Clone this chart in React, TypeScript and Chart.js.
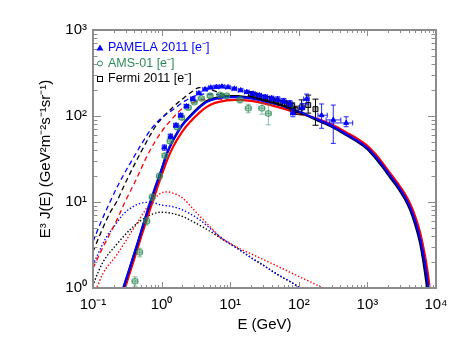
import React, { useEffect, useRef } from 'react';
import { Chart, registerables } from 'chart.js';

Chart.register(...registerables);

// ---- axis ticks ----
const X_TICKS = [0.1, 1, 10, 100, 1000, 10000];
const X_TICK_LABELS = ['10⁻¹', '10⁰', '10¹', '10²', '10³', '10⁴'];
const Y_TICKS = [1, 10, 100, 1000];
const Y_TICK_LABELS = ['10⁰', '10¹', '10²', '10³'];
const X_TITLE = 'E (GeV)';
const Y_TITLE = 'E³ J(E) (GeV²m⁻²s⁻¹sr⁻¹)';

// ---- legend ----
const LEGEND_LABELS = ['PAMELA 2011 [e⁻]', 'AMS-01 [e⁻]', 'Fermi 2011 [e⁻]'];

// ---- model curves: solid ----
const BLUE_SOLID_E = [0.2, 0.276, 0.35, 0.45, 0.6, 0.8, 1.0, 1.2, 1.5, 2.0, 2.6, 3.5, 4.5, 6, 9, 12, 20, 30, 50, 100, 200, 318, 500, 700, 1000, 1300, 1700, 2140, 2800, 3500, 4180, 5000, 5850, 6500, 7100, 7730, 8300];
const BLUE_SOLID_J = [0.45, 1.0, 1.8, 3.4, 7.2, 14.5, 24, 37, 54, 78, 98, 124, 145, 158, 166, 166, 160, 150, 136, 112, 89, 75, 61, 52, 42.5, 34, 26, 20.3, 15.2, 11.5, 8.7, 5.9, 3.8, 2.5, 1.65, 1.0, 0.55];

const BLACK_SOLID_E = [0.2, 0.276, 0.35, 0.45, 0.6, 0.8, 1.0, 1.2, 1.5, 2.0, 2.6, 3.5, 4.5, 6, 9, 12, 20, 30, 50, 100, 200, 318, 500, 700, 1000, 1300, 1700, 2140, 2800, 3500, 4180, 5000, 5850, 6500, 7100, 7730, 8300];
const BLACK_SOLID_J = [0.44, 0.98, 1.78, 3.35, 7.1, 14.3, 23.8, 36.8, 53.5, 79, 100, 127, 149, 162, 170, 170, 163, 152, 137, 111, 87, 73.5, 59.5, 50.8, 41.2, 32.7, 24.9, 19.4, 14.5, 10.9, 8.15, 5.4, 3.35, 2.1, 1.3, 0.75, 0.4];

const RED_SOLID_E = [0.2, 0.293, 0.37, 0.47, 0.6, 0.8, 1.0, 1.25, 1.5, 2.0, 2.6, 3.5, 4.5, 6, 9, 12, 20, 30, 50, 100, 200, 318, 500, 700, 1000, 1300, 1700, 2140, 2800, 3500, 4180, 5000, 5850, 6500, 7100, 7730, 8300, 9000];
const RED_SOLID_J = [0.38, 1.0, 1.8, 3.3, 6.1, 12.2, 20.5, 33, 45, 66, 85, 108, 127, 142, 152, 154, 150, 141, 127, 108, 91, 78, 64, 55, 45, 36.3, 27.8, 21.7, 16.3, 12.5, 9.6, 6.7, 4.45, 3.05, 2.1, 1.35, 0.8, 0.4];

// ---- model curves: dashed ----
const BLUE_DASH_E = [0.1, 0.13, 0.177, 0.24, 0.31, 0.4, 0.5, 0.7, 1.0, 1.5, 2.2, 3.0, 4.0, 5.5, 7.5, 10, 14];
const BLUE_DASH_J = [3.45, 5.8, 10, 16.5, 24, 34, 46, 70, 95, 120, 150, 170, 180, 180, 174, 168, 166];

const BLACK_DASH_E = [0.1, 0.13, 0.177, 0.22, 0.3, 0.4, 0.5, 0.7, 0.85, 1.0, 1.48, 2.0, 2.6, 3.6, 4.5, 6, 8, 10, 14];
const BLACK_DASH_J = [2.64, 4.4, 7.5, 10, 17, 27, 38, 62, 80, 93, 128, 157, 185, 214, 210, 195, 178, 172, 170];

const RED_DASH_E = [0.1, 0.13, 0.177, 0.24, 0.292, 0.4, 0.48, 0.6, 0.8, 1.0, 1.46, 1.66, 2.0, 3.0, 4.0, 6.0, 9, 13];
const RED_DASH_J = [1.7, 2.65, 4.3, 7.0, 10, 16.5, 22.5, 33, 50, 66, 95, 106, 122, 145, 155, 158, 155, 154];

// ---- model curves: dotted ----
const BLUE_DOT_E = [0.1, 0.113, 0.158, 0.2, 0.276, 0.4, 0.6, 0.8, 1.0, 1.4, 1.86, 2.6, 3.6, 5, 7.1, 10, 14, 20, 30, 50, 80, 105, 140];
const BLUE_DOT_J = [1.85, 2.3, 3.95, 5.1, 7.2, 9.0, 9.9, 9.7, 9.2, 8.9, 8.3, 7.3, 6.2, 5.0, 3.95, 3.25, 2.75, 2.26, 1.85, 1.42, 1.15, 1.0, 0.86];

const BLACK_DOT_E = [0.1, 0.107, 0.14, 0.22, 0.39, 0.6, 0.85, 1.05, 1.5, 2.0, 3.0, 5.0, 7.1, 10, 14, 20, 30, 50, 80, 105, 140];
const BLACK_DOT_J = [1.05, 1.24, 2.0, 3.2, 5.2, 6.7, 7.5, 7.6, 7.3, 6.8, 5.8, 4.6, 3.85, 3.25, 2.75, 2.26, 1.85, 1.42, 1.15, 1.0, 0.86];

const RED_DOT_E = [0.1, 0.113, 0.14, 0.22, 0.39, 0.68, 1.0, 1.2, 1.5, 2.0, 3.0, 4.0, 5.7, 7.1, 10, 14, 20, 50, 100, 150, 224, 300];
const RED_DOT_J = [0.8, 1.0, 1.48, 2.4, 4.9, 9.6, 12.8, 13.1, 12.6, 11.2, 8.0, 6.3, 4.7, 3.9, 3.3, 2.85, 2.5, 1.78, 1.36, 1.17, 1.0, 0.9];

// ---- data: PAMELA 2011 ----
const PAMELA_E = [1.1, 1.35, 1.62, 1.9, 2.3, 2.85, 3.5, 4.3, 5.2, 6.3, 7.6, 9.3, 11.5, 14.2, 17.5, 21.5, 26.5, 32.5, 40, 49, 60, 74, 82, 112, 130, 215, 318, 490];
const PAMELA_J = [43, 58, 78, 102, 130, 158, 184, 204, 214, 218, 220, 216, 208, 199, 190, 182, 174, 167, 161, 157, 150, 140, 108, 125, 158, 102, 90, 83];
const PAMELA_J_LO = [40, 54.5, 74, 97, 124, 151, 177, 197, 207, 211, 213, 209, 201, 192, 183, 175, 166, 159, 152, 147, 140, 129, 98, 110, 138, 72, 48, 75];
const PAMELA_J_HI = [46, 61.5, 82, 107, 136, 165, 191, 211, 221, 225, 227, 223, 215, 206, 197, 189, 182, 175, 170, 167, 160, 151, 120, 140, 180, 138, 134, 98];
const PAMELA_E_LO = [1.02, 1.25, 1.5, 1.76, 2.13, 2.64, 3.24, 3.98, 4.8, 5.8, 7.0, 8.6, 10.6, 13.1, 16.2, 19.9, 24.5, 30, 37, 45, 55, 68, 76, 102, 118, 190, 250, 280];
const PAMELA_E_HI = [1.18, 1.45, 1.74, 2.04, 2.47, 3.06, 3.76, 4.62, 5.6, 6.8, 8.2, 10.0, 12.4, 15.3, 18.8, 23.1, 28.5, 35, 43, 53, 65, 80, 88, 122, 142, 260, 410, 610];

// ---- data: AMS-01 ----
const AMS_E = [0.41, 0.48, 0.61, 0.73, 0.93, 1.12, 1.33, 1.69, 1.97, 2.45, 3.0, 3.8, 5.1, 7.1, 8.9, 13.9, 18.4, 29, 36];
const AMS_J = [1.2, 2.6, 6.0, 11.4, 20, 34.6, 51, 74, 96, 125, 145, 160, 172, 176, 172, 154, 123, 123, 107];
const AMS_J_LO = [1.05, 2.3, 5.4, 10.4, 18.5, 32.5, 48, 70, 91, 119, 139, 154, 165, 169, 164, 142, 109, 105, 79];
const AMS_J_HI = [1.35, 2.9, 6.6, 12.4, 21.5, 36.7, 54, 78, 101, 131, 151, 166, 179, 183, 180, 166, 137, 141, 135];
const AMS_E_LO = [0.37, 0.435, 0.55, 0.66, 0.84, 1.01, 1.2, 1.52, 1.78, 2.2, 2.7, 3.4, 4.6, 6.4, 8.0, 12.5, 16.6, 26, 32.5];
const AMS_E_HI = [0.45, 0.525, 0.67, 0.8, 1.02, 1.23, 1.46, 1.86, 2.16, 2.7, 3.3, 4.2, 5.6, 7.8, 9.8, 15.3, 20.2, 32, 39.5];

// ---- data: Fermi 2011 ----
const FERMI_E = [20, 23, 26.5, 30.5, 35, 40.5, 46.5, 53.5, 62, 71, 80, 90, 110, 137, 175];
const FERMI_J = [180, 174, 168, 163, 158, 153, 148, 143, 140, 135, 130, 117, 126, 134, 120];
const FERMI_J_LO = [172, 166, 160, 155, 150, 145, 140, 134, 130, 124, 118, 104, 103, 108, 78];
const FERMI_J_HI = [188, 182, 176, 171, 166, 161, 156, 152, 150, 146, 142, 130, 154, 175, 157];

const FONT = '"Liberation Sans", Arial, Helvetica, sans-serif';
const BLUE = '#0000ff';
const RED = '#ff0000';
const BLACK = '#000000';
const GREEN = 'rgb(46,139,87)';

const pts = (xs: number[], ys: number[]) => xs.map((x, i) => ({ x, y: ys[i] }));

const lineDs = (label: string, xs: number[], ys: number[], color: string, width: number, dash: number[], order: number) => ({
  label,
  data: pts(xs, ys),
  showLine: true,
  borderColor: color,
  backgroundColor: color,
  borderWidth: width,
  borderDash: dash,
  pointRadius: 0,
  cubicInterpolationMode: 'monotone',
  fill: false,
  order,
});

const errorBarPlugin = {
  id: 'errorBars',
  beforeDatasetDraw(chart: any, args: any) {
    const ds = chart.data.datasets[args.index];
    const eb = ds.errorBars;
    if (!eb) return;
    const { ctx, chartArea } = chart;
    const xs = chart.scales.x;
    const ys = chart.scales.y;
    ctx.save();
    ctx.beginPath();
    ctx.rect(chartArea.left, chartArea.top, chartArea.right - chartArea.left, chartArea.bottom - chartArea.top);
    ctx.clip();
    ctx.strokeStyle = eb.color;
    ctx.lineWidth = 1;
    const cap = eb.cap;
    ds.data.forEach((p: any, i: number) => {
      const px = xs.getPixelForValue(p.x);
      const py = ys.getPixelForValue(p.y);
      ctx.beginPath();
      if (eb.yLo && eb.yHi) {
        const y1 = ys.getPixelForValue(eb.yLo[i]);
        const y2 = ys.getPixelForValue(eb.yHi[i]);
        ctx.moveTo(px, y1); ctx.lineTo(px, y2);
        ctx.moveTo(px - cap, y1); ctx.lineTo(px + cap, y1);
        ctx.moveTo(px - cap, y2); ctx.lineTo(px + cap, y2);
      }
      if (eb.xLo && eb.xHi) {
        const x1 = xs.getPixelForValue(eb.xLo[i]);
        const x2 = xs.getPixelForValue(eb.xHi[i]);
        ctx.moveTo(x1, py); ctx.lineTo(x2, py);
        ctx.moveTo(x1, py - cap); ctx.lineTo(x1, py + cap);
        ctx.moveTo(x2, py - cap); ctx.lineTo(x2, py + cap);
      }
      ctx.stroke();
    });
    ctx.restore();
  },
};

const framePlugin = {
  id: 'frameTicks',
  afterDraw(chart: any) {
    const { ctx, chartArea } = chart;
    const { left, right, top, bottom } = chartArea;
    const xs = chart.scales.x;
    const ys = chart.scales.y;
    ctx.save();
    ctx.strokeStyle = '#8c8c8c';
    ctx.lineWidth = 1;
    ctx.beginPath();
    for (let k = -1; k <= 3; k++) {
      for (let m = 1; m <= 9; m++) {
        const v = m * Math.pow(10, k);
        const px = Math.round(xs.getPixelForValue(v)) + 0.5;
        const len = m === 1 ? 6 : 3;
        ctx.moveTo(px, bottom); ctx.lineTo(px, bottom - len);
        ctx.moveTo(px, top); ctx.lineTo(px, top + len);
      }
    }
    for (let k = 0; k <= 2; k++) {
      for (let m = 1; m <= 9; m++) {
        const v = m * Math.pow(10, k);
        const py = Math.round(ys.getPixelForValue(v)) + 0.5;
        const len = m === 1 ? 8 : 4.5;
        ctx.moveTo(left, py); ctx.lineTo(left + len, py);
        ctx.moveTo(right, py); ctx.lineTo(right - len, py);
      }
    }
    ctx.stroke();
    ctx.lineWidth = 2;
    ctx.strokeRect(left, top, right - left, bottom - top);
    ctx.restore();
  },
};

const legendPlugin = {
  id: 'insideLegend',
  afterDraw(chart: any) {
    const { ctx, chartArea } = chart;
    const x0 = chartArea.left + 7;
    const y0 = chartArea.top + 18;
    const dy = 15.5;
    const colors = [BLUE, GREEN, BLACK];
    ctx.save();
    ctx.font = `12.5px ${FONT}`;
    ctx.textBaseline = 'middle';
    ctx.textAlign = 'left';
    LEGEND_LABELS.forEach((label, i) => {
      const y = y0 + i * dy;
      ctx.fillStyle = colors[i];
      ctx.strokeStyle = colors[i];
      ctx.lineWidth = 1;
      if (i === 0) {
        ctx.beginPath();
        ctx.moveTo(x0, y - 3.5);
        ctx.lineTo(x0 + 3.5, y + 2.5);
        ctx.lineTo(x0 - 3.5, y + 2.5);
        ctx.closePath();
        ctx.fill();
      } else if (i === 1) {
        ctx.beginPath();
        ctx.arc(x0, y, 2.5, 0, Math.PI * 2);
        ctx.stroke();
      } else {
        ctx.strokeRect(x0 - 2.5, y - 2.5, 5, 5);
      }
      ctx.fillText(label, x0 + 8, y);
    });
    ctx.restore();
  },
};

export default function App() {
  const canvasRef = useRef<HTMLCanvasElement | null>(null);

  useEffect(() => {
    const canvas = canvasRef.current;
    if (!canvas) return;
    const datasets: any[] = [
      {
        label: 'PAMELA 2011 [e⁻]',
        data: pts(PAMELA_E, PAMELA_J),
        pointStyle: 'triangle',
        pointRadius: 2.8,
        backgroundColor: BLUE,
        borderColor: BLUE,
        borderWidth: 1,
        order: 0,
        errorBars: { yLo: PAMELA_J_LO, yHi: PAMELA_J_HI, xLo: PAMELA_E_LO, xHi: PAMELA_E_HI, color: 'rgba(0,0,255,0.85)', cap: 2.5 },
      },
      {
        label: 'Fermi 2011 [e⁻]',
        data: pts(FERMI_E, FERMI_J),
        pointStyle: 'rect',
        pointRadius: 3.5,
        backgroundColor: 'rgba(0,0,0,0.3)',
        borderColor: BLACK,
        borderWidth: 1,
        order: 1,
        errorBars: { yLo: FERMI_J_LO, yHi: FERMI_J_HI, color: BLACK, cap: 3 },
      },
      {
        label: 'AMS-01 [e⁻]',
        data: pts(AMS_E, AMS_J),
        pointStyle: 'circle',
        pointRadius: 3,
        backgroundColor: 'rgba(46,139,87,0.35)',
        borderColor: 'rgba(46,139,87,0.75)',
        borderWidth: 1,
        order: 2,
        errorBars: { yLo: AMS_J_LO, yHi: AMS_J_HI, xLo: AMS_E_LO, xHi: AMS_E_HI, color: 'rgba(46,139,87,0.55)', cap: 2.5 },
      },
      lineDs('blue solid', BLUE_SOLID_E, BLUE_SOLID_J, BLUE, 2.2, [], 3),
      lineDs('black solid', BLACK_SOLID_E, BLACK_SOLID_J, BLACK, 2.2, [], 4),
      lineDs('red solid', RED_SOLID_E, RED_SOLID_J, RED, 2.2, [], 5),
      lineDs('blue dashed', BLUE_DASH_E, BLUE_DASH_J, BLUE, 1.3, [5, 3.5], 6),
      lineDs('black dashed', BLACK_DASH_E, BLACK_DASH_J, BLACK, 1.3, [5, 3.5], 7),
      lineDs('red dashed', RED_DASH_E, RED_DASH_J, RED, 1.3, [5, 3.5], 8),
      lineDs('blue dotted', BLUE_DOT_E, BLUE_DOT_J, BLUE, 1.4, [1.4, 2], 9),
      lineDs('black dotted', BLACK_DOT_E, BLACK_DOT_J, BLACK, 1.4, [1.4, 2], 10),
      lineDs('red dotted', RED_DOT_E, RED_DOT_J, RED, 1.4, [1.4, 2], 11),
    ];

    const chart = new Chart(canvas, {
      type: 'scatter',
      data: { datasets },
      options: {
        animation: false,
        responsive: false,
        devicePixelRatio: 1,
        events: [],
        layout: { padding: { left: 0, top: 30, right: 27, bottom: 0 } },
        plugins: { legend: { display: false }, tooltip: { enabled: false } },
        scales: {
          x: {
            type: 'logarithmic',
            min: 0.1,
            max: 10000,
            grid: { display: false, drawTicks: false },
            border: { display: false },
            afterBuildTicks: (axis: any) => {
              axis.ticks = X_TICKS.map((v) => ({ value: v }));
            },
            afterFit: (axis: any) => {
              axis.height = 60;
            },
            ticks: {
              autoSkip: false,
              maxRotation: 0,
              padding: 8,
              color: BLACK,
              font: { family: FONT, size: 15 },
              callback: (_v: any, i: number) => X_TICK_LABELS[i],
            },
            title: {
              display: true,
              text: X_TITLE,
              color: BLACK,
              font: { family: FONT, size: 15 },
              padding: { top: 0, bottom: 14 },
            },
          },
          y: {
            type: 'logarithmic',
            min: 1,
            max: 1000,
            grid: { display: false, drawTicks: false },
            border: { display: false },
            afterBuildTicks: (axis: any) => {
              axis.ticks = Y_TICKS.map((v) => ({ value: v }));
            },
            afterFit: (axis: any) => {
              axis.width = 93;
            },
            ticks: {
              autoSkip: false,
              padding: 6,
              color: BLACK,
              font: { family: FONT, size: 15 },
              callback: (_v: any, i: number) => Y_TICK_LABELS[i],
            },
            title: {
              display: true,
              text: Y_TITLE,
              color: BLACK,
              font: { family: FONT, size: 15 },
              padding: { top: 37, bottom: 0 },
            },
          },
        },
      } as any,
      plugins: [errorBarPlugin, framePlugin, legendPlugin],
    });

    return () => chart.destroy();
  }, []);

  return (
    <div style={{ position: 'fixed', left: 0, top: 0, width: 463, height: 348, background: '#fff' }}>
      <canvas ref={canvasRef} width={463} height={348} />
    </div>
  );
}
